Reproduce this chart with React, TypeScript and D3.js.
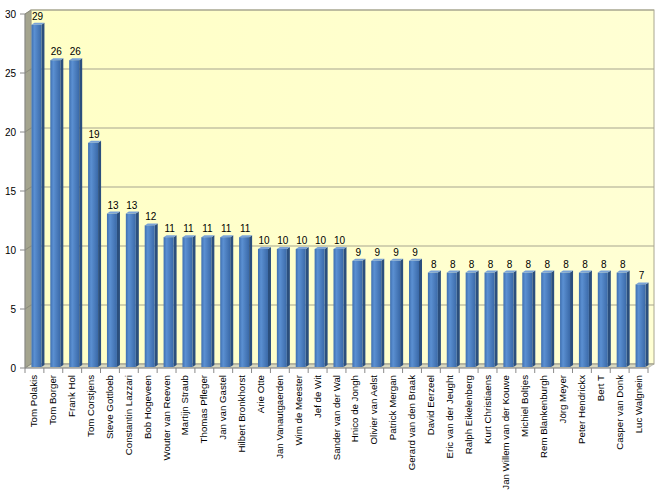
import React from "react";
import * as d3 from "d3";

const names = [
  "Tom Polakis", "Tom Borger", "Frank Hol", "Tom Corstjens", "Steve Gottloeb",
  "Constantin Lazzari", "Bob Hogeveen", "Wouter van Reeven", "Martijn Straub",
  "Thomas Pfleger", "Jan van Gastel", "Hilbert Bronkhorst", "Arie Otte",
  "Jan Vanautgaerden", "Wim de Meester", "Jef de Wit", "Sander van der Wal",
  "Hnico de Jongh", "Olivier van Aelst", "Patrick Mergan", "Gerard van den Braak",
  "David Eerzeel", "Eric van der Jeught", "Ralph Eikelenberg", "Kurt Christiaens",
  "Jan Willem van der Kouwe", "Michiel Boltjes", "Rem Blankenburgh", "Jörg Meyer",
  "Peter Hendrickx", "Bert T", "Casper van Donk", "Luc Walgnein",
];
const values = [
  29, 26, 26, 19, 13, 13, 12, 11, 11, 11, 11, 11, 10, 10, 10, 10, 10,
  9, 9, 9, 9, 8, 8, 8, 8, 8, 8, 8, 8, 8, 8, 8, 7,
];
const yTicks = [0, 5, 10, 15, 20, 25, 30];

export default function App() {
  const W = 661, H = 493;
  const x0 = 25, x1 = 648;
  const DX = 6, DY = -4;
  const x = d3.scaleBand<string>().domain(names).range([x0, x1]).paddingInner(0).paddingOuter(0);
  const y = d3.scaleLinear().domain([0, 30]).range([368, 14]);
  const bw = 10;
  const bdx = 3, bdy = -2;
  const fdx = 2, fdy = -1;
  const font = "'Liberation Sans', Arial, sans-serif";

  return (
    <svg width={W} height={H} style={{ display: "block", position: "absolute", left: 0, top: 0 }}>
      <defs>
        <linearGradient id="wall" x1="0" y1="0" x2="1" y2="0">
          <stop offset="0" stopColor="#FFFFC6" />
          <stop offset="1" stopColor="#FFFFD4" />
        </linearGradient>
        <linearGradient id="front" x1="0" y1="0" x2="1" y2="0">
          <stop offset="0" stopColor="#3E6FB0" />
          <stop offset="0.3" stopColor="#5B90D2" />
          <stop offset="1" stopColor="#3A69A8" />
        </linearGradient>
      </defs>
      <rect width={W} height={H} fill="#ffffff" />
      <rect x={x0 + DX} y={y(30) + DY} width={x1 - x0} height={y(0) - y(30)} fill="url(#wall)" stroke="#A8A690" strokeWidth={1} />
      <polygon
        points={`${x0},${y(30)} ${x0 + DX},${y(30) + DY} ${x0 + DX},${y(0) + DY} ${x0},${y(0)}`}
        fill="#A4A48E" stroke="#8e8e7a" strokeWidth={0.5}
      />
      <polygon
        points={`${x0},${y(0)} ${x0 + DX},${y(0) + DY} ${x1 + DX},${y(0) + DY} ${x1},${y(0)}`}
        fill="#D8D8C0" stroke="#9a9a9a" strokeWidth={0.5}
      />
      {yTicks.map((t) => (
        <g key={t}>
          <line x1={x0 + DX} x2={x1 + DX} y1={y(t) + DY} y2={y(t) + DY} stroke="#A8A690" strokeWidth={1.2} />
          <line x1={x0} x2={x0 + DX} y1={y(t)} y2={y(t) + DY} stroke="#8a8a7a" strokeWidth={1} />
        </g>
      ))}
      {names.map((n, i) => {
        const cx = (x(n) as number) + x.bandwidth() / 2 + fdx;
        const l = cx - bw / 2, r = cx + bw / 2;
        const yb = y(0) + fdy, yt = y(values[i]) + fdy;
        return (
          <g key={n}>
            <polygon points={`${r},${yt} ${r + bdx},${yt + bdy} ${r + bdx},${yb + bdy} ${r},${yb}`} fill="#2B4F7E" />
            <polygon points={`${l},${yt} ${l + bdx},${yt + bdy} ${r + bdx},${yt + bdy} ${r},${yt}`} fill="#7AA3D8" />
            <rect x={l} y={yt} width={bw} height={yb - yt} fill="url(#front)" />
            <text x={cx + 1} y={yt - 5} textAnchor="middle" fontFamily={font} fontSize={10} fill="#000">{values[i]}</text>
          </g>
        );
      })}
      <line x1={x0} x2={x0} y1={y(30)} y2={y(0)} stroke="#8a8a8a" />
      {yTicks.map((t) => (
        <g key={"yt" + t}>
          <line x1={x0 - 5} x2={x0} y1={y(t)} y2={y(t)} stroke="#8a8a8a" />
          <text x={x0 - 9} y={y(t) + 3.5} textAnchor="end" fontFamily={font} fontSize={10} fill="#000">{t}</text>
        </g>
      ))}
      <line x1={x0} x2={x1} y1={y(0)} y2={y(0)} stroke="#8a8a8a" />
      {names.map((n, i) => (
        <line key={"xt" + i} x1={x(n) as number} x2={x(n) as number} y1={y(0)} y2={y(0) + 5} stroke="#8a8a8a" />
      ))}
      <line x1={x1} x2={x1} y1={y(0)} y2={y(0) + 5} stroke="#8a8a8a" />
      {names.map((n) => {
        const cx = (x(n) as number) + x.bandwidth() / 2 + 3;
        return (
          <text key={"lb" + n} transform={`translate(${cx},${y(0) + 7}) rotate(-90)`} textAnchor="end" fontFamily={font} fontSize={9.7} fill="#000">
            {n}
          </text>
        );
      })}
    </svg>
  );
}
